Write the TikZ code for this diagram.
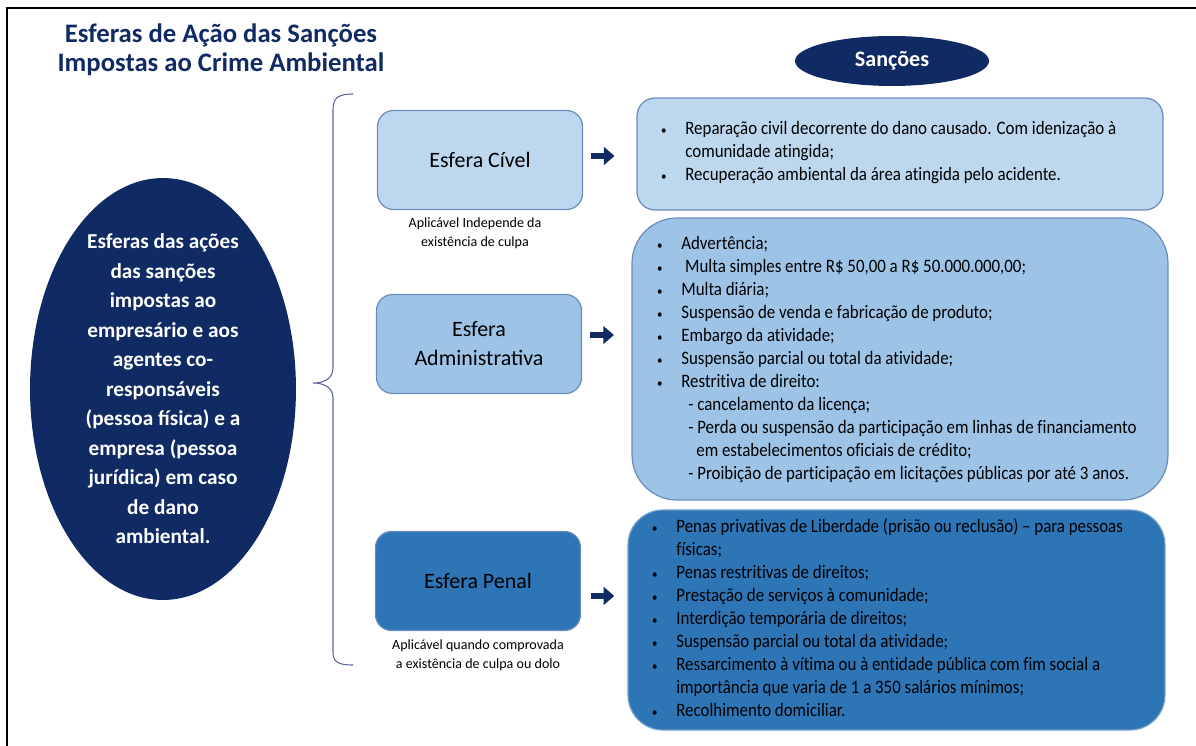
\documentclass[tikz,border=0pt]{standalone}
\usepackage{fontspec}
\setmainfont{Carlito}
\newfontfamily\listfont{Carlito}[FakeStretch=0.89, Ligatures={TeX,NoCommon}]
\usetikzlibrary{arrows.meta, positioning, shapes.geometric, calc}

\definecolor{navy}{HTML}{102A63}
\definecolor{civfill}{HTML}{BDD7EE}
\definecolor{admfill}{HTML}{9DC3E6}
\definecolor{penfill}{HTML}{2E75B6}
\definecolor{edge}{HTML}{6A8CBF}
\definecolor{bracecol}{HTML}{5563A0}

\newcommand{\itm}{\makebox[0.5cm][l]{\hspace*{0.5pt}{\fontsize{7}{7}\selectfont\textbullet}}}
\newcommand{\cnt}{\hspace*{0.5cm}}

\tikzset{
  esfera/.style={draw=edge, line width=0.7pt, rounded corners=0.32cm,
    minimum width=4.1cm, minimum height=1.98cm, align=center,
    font=\fontsize{12.5}{16.5}\selectfont},
  sancao/.style={draw=edge, line width=0.7pt},
  lista/.style={anchor=north west, inner sep=0pt, align=left,
    font=\listfont\fontsize{10.8}{13.1}\selectfont},
  nota/.style={align=center, inner sep=0pt, font=\fontsize{8}{10.8}\selectfont},
  seta/.style={navy, line width=3.4pt, -{Triangle[length=6pt, width=10pt]}},
  oval/.style={ellipse, fill=navy, inner sep=0pt},
}

\begin{document}
\begin{tikzpicture}[x=0.02cm, y=-0.02cm, >=Latex]
    \useasboundingbox (0,0) rectangle (1196,746);
    % Frame
    \draw[line width=1.5pt] (7,746) -- (7,8) -- (1196,8);
    % Title
    \node[navy, align=center, font=\bfseries\fontsize{15.2}{16.6}\selectfont] (title) at (221,50)
        {Esferas de Ação das Sanções\\Impostas ao Crime Ambiental};
    % Big oval
    \node[oval, minimum width=5.32cm, minimum height=8.44cm] (big) at (163,389) {};
    \node[white, align=center, font=\bfseries\fontsize{12.1}{16.8}\selectfont] (bigtxt) at (big.center)
        {Esferas das ações\\das sanções\\impostas ao\\empresário e aos\\agentes co-\\responsáveis\\(pessoa física) e a\\empresa (pessoa\\jurídica) em caso\\de dano\\ambiental.};
    % Brace
    \draw[bracecol, line width=0.6pt] (353,94) .. controls (338,94) and (333,98) .. (333,110)
        -- (333,368) .. controls (333,378) and (325,383) .. (313,383)
        .. controls (325,383) and (333,388) .. (333,398)
        -- (333,652) .. controls (333,662) and (338,665) .. (353,665);
    % Spheres
    \node[esfera, fill=civfill] (civ) at (480,160) {Esfera Cível};
    \node[esfera, fill=admfill] (adm) at (479,344) {Esfera\\Administrativa};
    \node[esfera, fill=penfill] (pen) at (478,581) {Esfera Penal};
    \node[nota, below=0.15cm of civ, xshift=-0.1cm] (civnote)
        {Aplicável Independe da\\existência de culpa};
    \node[nota, below=0.17cm of pen] (pennote)
        {Aplicável quando comprovada\\a existência de culpa ou dolo};
    % Sancoes header
    \node[oval, minimum width=3.88cm, minimum height=1.0cm, text=white,
        font=\bfseries\fontsize{12.6}{15}\selectfont] (head) at (892,61) {Sanções};
    % Sanction boxes
    \node[sancao, fill=civfill, rounded corners=0.36cm, minimum width=10.52cm, minimum height=2.24cm]
        (sciv) at (900,154) {};
    \node[sancao, fill=admfill, rounded corners=0.9cm, minimum width=10.72cm, minimum height=5.64cm]
        (sadm) at (900,359) {};
    \node[sancao, fill=penfill, draw=penfill!70!white, rounded corners=0.7cm, minimum width=10.74cm, minimum height=4.4cm]
        (spen) at (896.5,620) {};
    \node[lista] (tciv) at (660,118) {\strut\itm Reparação civil decorrente do dano causado. Com idenização à\\
        \cnt comunidade atingida;\\
        \itm Recuperação ambiental da área atingida pelo acidente.};
    \node[lista] (tadm) at (656,233) {\strut\itm Advertência;\\
        \itm\ Multa simples entre R\$ 50,00 a R\$ 50.000.000,00;\\
        \itm Multa diária;\\
        \itm Suspensão de venda e fabricação de produto;\\
        \itm Embargo da atividade;\\
        \itm Suspensão parcial ou total da atividade;\\
        \itm Restritiva de direito:\\
        \cnt\hspace*{0.14cm}- cancelamento da licença;\\
        \cnt\hspace*{0.14cm}- Perda ou suspensão da participação em linhas de financiamento\\
        \cnt\hspace*{0.3cm}em estabelecimentos oficiais de crédito;\\
        \cnt\hspace*{0.14cm}- Proibição de participação em licitações públicas por até 3 anos.};
    \node[lista] (tpen) at (651,516) {\strut\itm Penas privativas de Liberdade (prisão ou reclusão) – para pessoas\\
        \cnt físicas;\\
        \itm Penas restritivas de direitos;\\
        \itm Prestação de serviços à comunidade;\\
        \itm Interdição temporária de direitos;\\
        \itm Suspensão parcial ou total da atividade;\\
        \itm Ressarcimento à vítima ou à entidade pública com fim social a\\
        \cnt importância que varia de 1 a 350 salários mínimos;\\
        \itm Recolhimento domiciliar.};
    % Arrows
    \draw[seta, shorten <=4.5pt, shorten >=12.5pt] ([yshift=2.3pt]civ.east) -- ([yshift=2.3pt]civ.east -| sciv.west);
    \draw[seta, shorten <=4.5pt, shorten >=10pt] ([yshift=5.1pt]adm.east) -- ([yshift=5.1pt]adm.east -| sadm.west);
    \draw[seta, shorten <=5.5pt, shorten >=7.5pt] ([yshift=-8.5pt]pen.east) -- ([yshift=-8.5pt]pen.east -| spen.west);
\end{tikzpicture}
\end{document}
